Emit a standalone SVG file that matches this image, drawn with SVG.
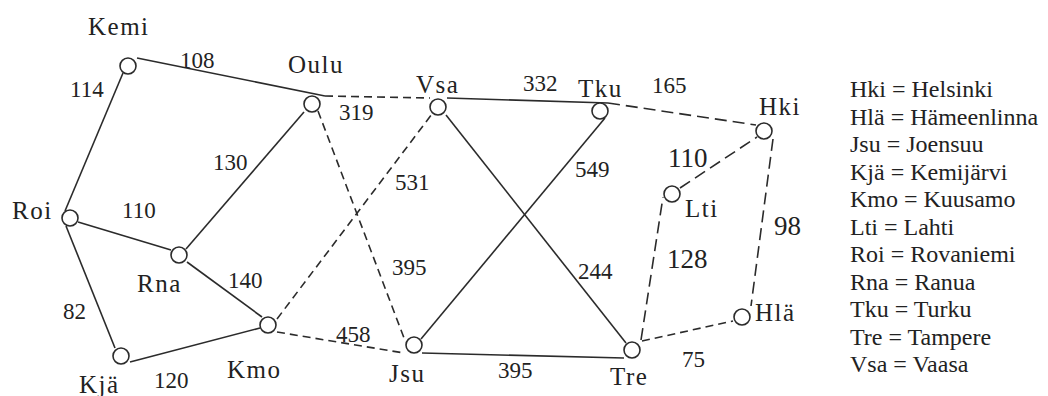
<svg xmlns="http://www.w3.org/2000/svg" width="1048" height="396" viewBox="0 0 1048 396" font-family="Liberation Serif, Times New Roman, serif">
<style>
.e{stroke:#2b2b2b;stroke-width:1.6;fill:none}
.d{stroke-dasharray:8 5}
.dl{stroke-dasharray:12 6}
.n{fill:#fff;stroke:#2b2b2b;stroke-width:1.6}
text{fill:#222}
.lb{font-size:25px;letter-spacing:1.5px}
.num{font-size:23px}
.big{font-size:27px}
.lg{font-size:24px}
</style>
<rect width="1048" height="396" fill="#fff"/>
<g id="connectors">
<line class="e" x1="137" y1="58" x2="325" y2="96"/>
<line class="e d" x1="325" y1="96" x2="430" y2="98"/>
<line class="e" x1="447" y1="98" x2="608" y2="103"/>
<line class="e dl" x1="608" y1="103" x2="756" y2="125"/>
<line class="e" x1="123" y1="73" x2="65" y2="211"/>
<line class="e" x1="78" y1="222" x2="171" y2="250"/>
<line class="e" x1="186" y1="249" x2="304" y2="112"/>
<line class="e" x1="187" y1="262" x2="262" y2="317"/>
<line class="e" x1="66" y1="226" x2="115" y2="348"/>
<line class="e" x1="130" y1="362" x2="260" y2="328"/>
<line class="e d" x1="277" y1="319" x2="432" y2="114"/>
<line class="e d" x1="318" y1="111" x2="404" y2="338"/>
<line class="e d" x1="277" y1="332" x2="404" y2="353"/>
<line class="e" x1="446" y1="115" x2="626" y2="343"/>
<line class="e" x1="605" y1="118" x2="421" y2="339"/>
<line class="e" x1="422" y1="353" x2="624" y2="358"/>
<line class="e dl" x1="641" y1="340" x2="663" y2="197"/>
<line class="e d" x1="642" y1="341" x2="733" y2="321"/>
<line class="e dl" x1="680" y1="188" x2="757" y2="137"/>
<line class="e dl" x1="773" y1="139" x2="751" y2="306"/>
</g>
<g id="edge-labels">
<text class="num" x="180" y="68">108</text>
<text class="num" x="70" y="97">114</text>
<text class="num" x="339" y="120">319</text>
<text class="num" x="523" y="91">332</text>
<text class="num" x="652" y="93">165</text>
<text class="num" x="213" y="170">130</text>
<text class="num" x="575" y="177">549</text>
<text class="num" x="395" y="190">531</text>
<text class="big" x="668" y="167">110</text>
<text class="num" x="122" y="218">110</text>
<text class="big" x="774" y="235">98</text>
<text class="big" x="667" y="268">128</text>
<text class="num" x="392" y="275">395</text>
<text class="num" x="228" y="288">140</text>
<text class="num" x="578" y="279">244</text>
<text class="num" x="63" y="319">82</text>
<text class="num" x="336" y="342">458</text>
<text class="num" x="154" y="388">120</text>
<text class="num" x="498" y="378">395</text>
<text class="num" x="682" y="367">75</text>
</g>
<g id="Kemi"><circle class="n" cx="128" cy="66" r="8"/><text class="lb" x="88" y="35">Kemi</text></g>
<g id="Oulu"><circle class="n" cx="312" cy="104" r="8"/><text class="lb" x="288" y="73">Oulu</text></g>
<g id="Vsa"><circle class="n" cx="438" cy="107" r="8"/><text class="lb" x="416" y="93">Vsa</text></g>
<g id="Tku"><circle class="n" cx="600" cy="111" r="8"/><text class="lb" x="578" y="97">Tku</text></g>
<g id="Hki"><circle class="n" cx="764" cy="131" r="8"/><text class="lb" x="759" y="115">Hki</text></g>
<g id="Lti"><circle class="n" cx="672" cy="194" r="8"/><text class="lb" x="685" y="217">Lti</text></g>
<g id="Roi"><circle class="n" cx="70" cy="218" r="8"/><text class="lb" x="12" y="219">Roi</text></g>
<g id="Rna"><circle class="n" cx="179" cy="255" r="8"/><text class="lb" x="137" y="292">Rna</text></g>
<g id="Kmo"><circle class="n" cx="268" cy="325" r="8"/><text class="lb" x="227" y="378">Kmo</text></g>
<g id="Kja"><circle class="n" cx="121" cy="356" r="8"/><text class="lb" x="79" y="393">Kjä</text></g>
<g id="Jsu"><circle class="n" cx="414" cy="345" r="8"/><text class="lb" x="389" y="382">Jsu</text></g>
<g id="Tre"><circle class="n" cx="632" cy="350" r="8"/><text class="lb" x="610" y="385">Tre</text></g>
<g id="Hla"><circle class="n" cx="742" cy="317" r="8"/><text class="lb" x="755" y="321">Hlä</text></g>
<g id="legend">
<text class="lg" x="850" y="97">Hki = Helsinki</text>
<text class="lg" x="850" y="124.5">Hlä = Hämeenlinna</text>
<text class="lg" x="850" y="152">Jsu = Joensuu</text>
<text class="lg" x="850" y="179.5">Kjä = Kemijärvi</text>
<text class="lg" x="850" y="207">Kmo = Kuusamo</text>
<text class="lg" x="850" y="234.5">Lti = Lahti</text>
<text class="lg" x="850" y="262">Roi = Rovaniemi</text>
<text class="lg" x="850" y="289.5">Rna = Ranua</text>
<text class="lg" x="850" y="317">Tku = Turku</text>
<text class="lg" x="850" y="344.5">Tre = Tampere</text>
<text class="lg" x="850" y="372">Vsa = Vaasa</text>
</g>
</svg>
